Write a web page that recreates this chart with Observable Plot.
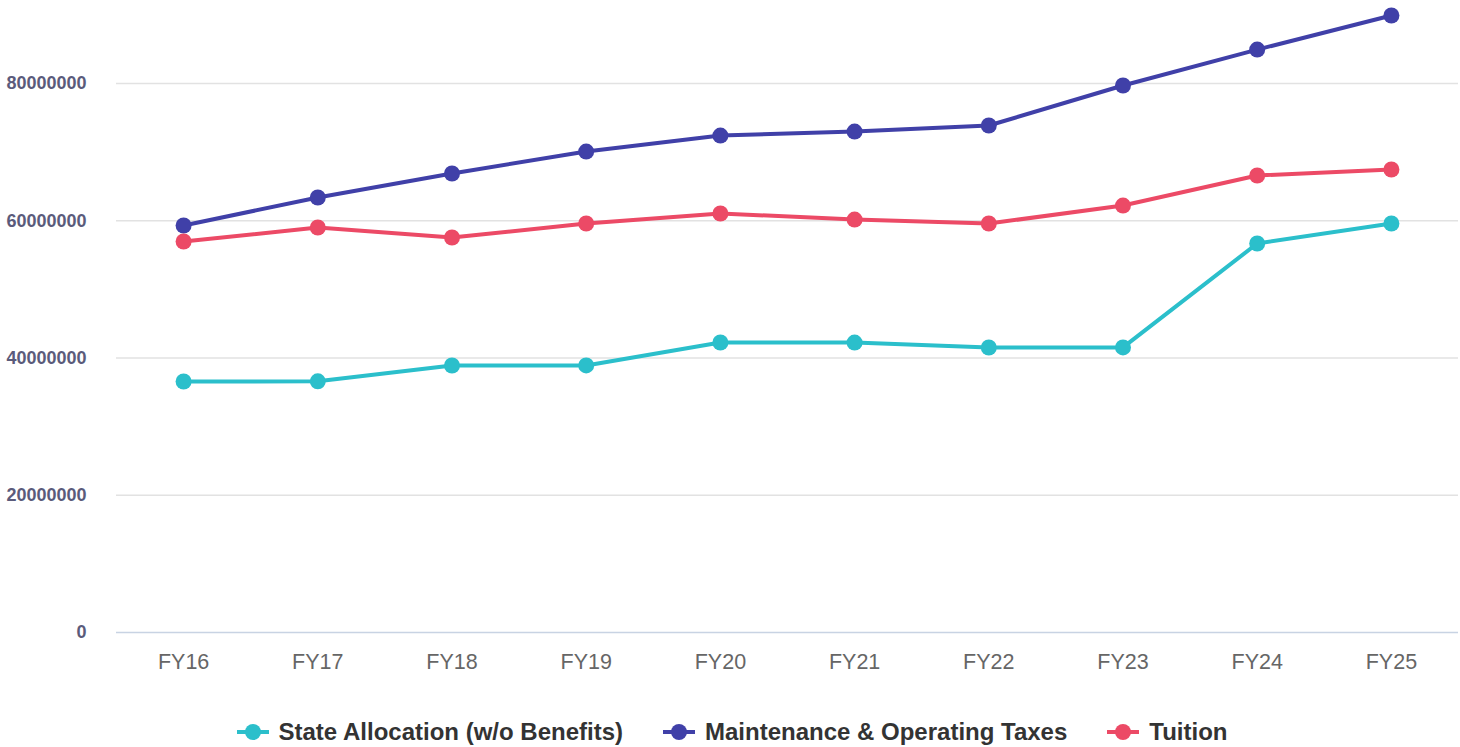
<!DOCTYPE html>
<html>
<head>
<meta charset="utf-8">
<script src="https://cdn.jsdelivr.net/npm/d3@7"></script>
<script src="https://cdn.jsdelivr.net/npm/@observablehq/plot@0.6"></script>
<style>
  html, body { margin: 0; padding: 0; background: #fff; }
  body { width: 1460px; height: 747px; overflow: hidden; font-family: "Liberation Sans", Arial, sans-serif; }
  #legend { display: flex; justify-content: center; align-items: center; gap: 40px; margin-top: 28px; font-weight: bold; font-size: 24px; color: #333; padding-left: 4px; }
  #legend .item { display: flex; align-items: center; gap: 10px; }
</style>
</head>
<body>
<div id="chart"></div>
<div id="legend"></div>
<script>
const years = ["FY16","FY17","FY18","FY19","FY20","FY21","FY22","FY23","FY24","FY25"];
const seriesNames = ["State Allocation (w/o Benefits)", "Maintenance & Operating Taxes", "Tuition"];
const seriesColors = ["#2bbfcb", "#4040a8", "#ec4a66"];
const stateAllocation = [36580000, 36600000, 38910000, 38920000, 42260000, 42250000, 41530000, 41540000, 56690000, 59600000];
const maintenanceTaxes = [59310000, 63390000, 66890000, 70090000, 72420000, 73000000, 73880000, 79710000, 84950000, 89910000];
const tuition = [56980000, 59020000, 57560000, 59600000, 61060000, 60180000, 59600000, 62220000, 66600000, 67470000];
const yTicks = [0, 20000000, 40000000, 60000000, 80000000];

const valuesBySeries = [stateAllocation, maintenanceTaxes, tuition];
const data = [];
seriesNames.forEach((s, i) => years.forEach((y, j) => data.push({series: s, year: y, value: valuesBySeries[i][j]})));

const chart = Plot.plot({
  width: 1460,
  height: 690,
  marginLeft: 116,
  marginRight: 2,
  marginTop: 0,
  marginBottom: 58,
  style: { fontFamily: "Liberation Sans, Arial, sans-serif", background: "#fff" },
  x: { type: "point", domain: years, padding: 0.5, round: false, label: null },
  y: { domain: [0, 92100000], label: null },
  color: { domain: seriesNames, range: seriesColors },
  marks: [
    Plot.ruleY(yTicks.filter(d => d > 0), { stroke: "#e2e2e2", strokeWidth: 1.5 }),
    Plot.ruleY([0], { stroke: "#c8d3e3", strokeWidth: 1.5 }),
    Plot.axisY({ ticks: yTicks, tickSize: 0, tickPadding: 30, tickFormat: d => String(d), fontSize: 18, fontWeight: "bold", fill: "#5b5b7b", label: null }),
    Plot.axisX({ tickSize: 0, tickPadding: 21, fontSize: 21.5, fill: "#666", label: null }),
    Plot.line(data, { x: "year", y: "value", z: "series", stroke: "series", strokeWidth: 4 }),
    Plot.dot(data, { x: "year", y: "value", fill: "series", r: 8 })
  ]
});
document.getElementById("chart").appendChild(chart);

const legend = document.getElementById("legend");
seriesNames.forEach((s, i) => {
  const item = document.createElement("div");
  item.className = "item";
  item.innerHTML = `<svg width="32" height="20"><line x1="0" y1="10" x2="32" y2="10" stroke="${seriesColors[i]}" stroke-width="4"/><circle cx="16" cy="10" r="8" fill="${seriesColors[i]}"/></svg><span>${s}</span>`;
  legend.appendChild(item);
});
</script>
</body>
</html>
